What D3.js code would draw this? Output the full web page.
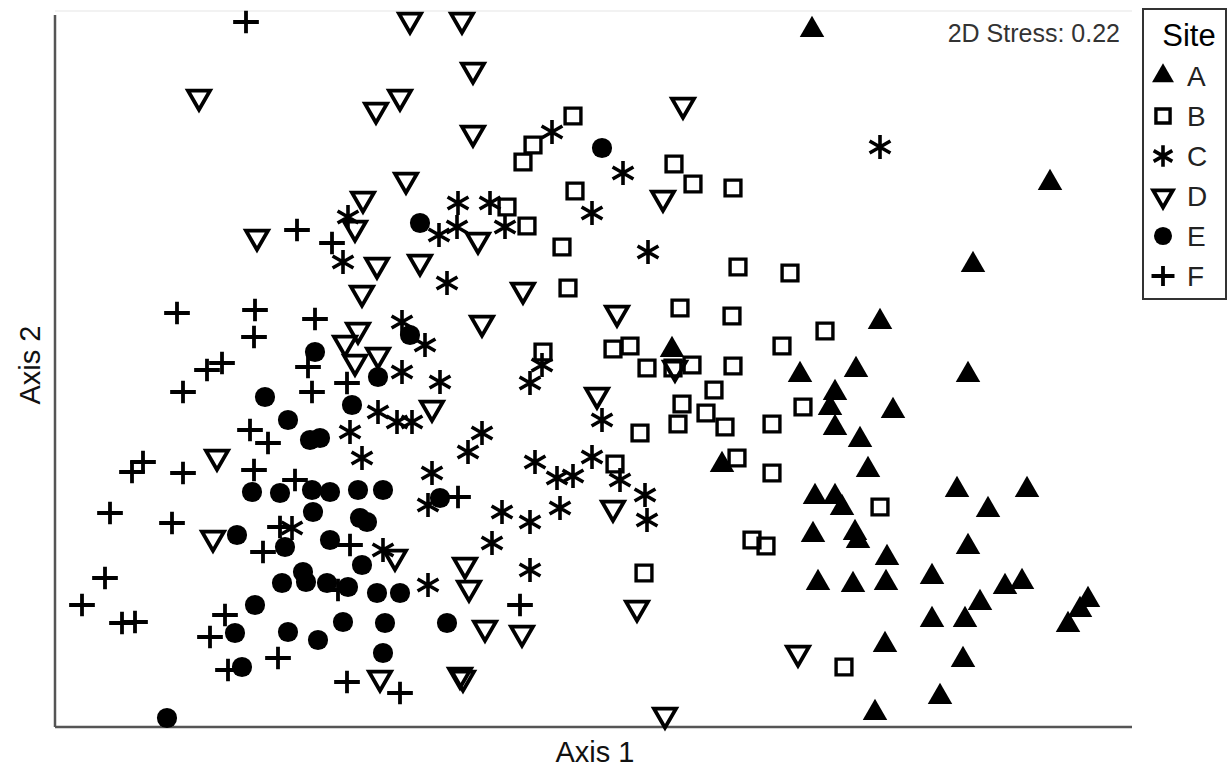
<!DOCTYPE html>
<html>
<head>
<meta charset="utf-8">
<script src="https://cdn.jsdelivr.net/npm/d3@7"></script>
<style>
  body { margin: 0; background: #fff; }
  svg { display: block; font-family: Arial, "Liberation Sans", sans-serif; }
</style>
</head>
<body>
<svg id="chart" width="1228" height="780"></svg>
<script>
// NMDS scores (axis units are arbitrary)
var siteA = [
  [7.57,6.97],[9.95,5.44],[9.18,4.62],[8.25,4.05],[9.13,3.52],[7.45,3.52],[8.01,3.57],
  [7.80,3.34],[7.75,3.19],[8.38,3.16],[6.17,3.77],[6.67,2.62],[7.80,2.99],[8.05,2.87],
  [8.13,2.57],[7.60,2.30],[7.80,2.30],[7.87,2.19],[9.02,2.37],[9.72,2.37],[9.33,2.17],
  [7.58,1.92],[8.00,1.94],[8.03,1.86],[9.13,1.80],[8.32,1.69],[7.63,1.44],[7.98,1.42],
  [8.31,1.44],[8.77,1.50],[9.50,1.40],[9.67,1.45],[9.25,1.24],[8.77,1.07],[9.10,1.07],
  [10.33,1.27],[10.25,1.17],[10.13,1.02],[8.30,0.82],[9.08,0.67],[8.85,0.30],[8.20,0.14]
];
var siteB = [
  [4.78,5.82],[5.18,6.11],[4.68,5.65],[4.52,5.20],[4.72,5.01],[5.07,4.80],[5.20,5.36],
  [6.19,5.63],[6.38,5.43],[6.78,5.39],[6.83,4.60],[5.13,4.39],[6.25,4.19],[6.77,4.11],
  [7.35,4.54],[7.70,3.96],[7.27,3.81],[4.88,3.75],[5.58,3.78],[5.75,3.81],[5.92,3.59],
  [6.37,3.62],[6.78,3.61],[6.18,3.59],[6.59,3.37],[6.27,3.23],[6.51,3.14],[6.23,3.03],
  [6.70,3.00],[7.17,3.03],[5.85,2.94],[6.82,2.69],[7.17,2.54],[5.60,2.63],[7.48,3.20],
  [8.25,2.20],[6.97,1.87],[7.11,1.81],[5.89,1.54],[7.89,0.60]
];
var siteC = [
  [4.97,5.95],[5.68,5.54],[5.37,5.14],[5.93,4.75],[4.03,5.24],[4.35,5.24],[3.84,4.92],
  [4.02,5.00],[4.50,5.00],[8.25,5.80],[2.93,5.10],[2.88,4.65],[3.92,4.44],[3.47,4.05],
  [3.70,3.82],[3.85,3.45],[3.47,3.55],[3.23,3.15],[3.42,3.05],[3.57,3.05],[2.95,2.95],
  [3.07,2.69],[3.77,2.54],[3.73,2.22],[4.27,2.94],[4.13,2.75],[4.75,3.44],[4.87,3.62],
  [5.47,3.07],[4.80,2.65],[5.02,2.49],[5.18,2.51],[5.37,2.70],[5.65,2.47],[5.90,2.32],
  [5.92,2.07],[4.47,2.15],[4.75,2.05],[5.05,2.19],[4.37,1.84],[4.75,1.57],[3.73,1.42],
  [3.28,1.77],[2.37,1.99]
];
var siteD = [
  [4.07,7.07],[3.55,7.07],[4.18,6.57],[3.45,6.30],[3.21,6.17],[4.18,5.94],[3.51,5.47],
  [6.28,6.22],[6.08,5.29],[3.08,5.28],[3.00,4.99],[2.02,4.90],[3.65,4.65],[4.23,4.87],
  [3.22,4.62],[4.68,4.37],[3.07,4.34],[4.27,4.04],[5.62,4.14],[3.03,3.97],[2.90,3.84],
  [3.23,3.72],[3.00,3.65],[3.77,3.19],[5.42,3.32],[1.62,2.70],[1.58,1.89],[3.40,1.70],
  [5.58,2.19],[4.10,1.62],[4.14,1.39],[4.30,0.99],[4.67,0.94],[5.82,1.19],[4.05,0.52],
  [4.08,0.49],[3.25,0.49],[6.10,0.12],[7.43,0.74],[6.20,3.59],[1.44,6.30]
];
var siteE = [
  [5.47,5.79],[3.65,5.04],[3.55,3.92],[2.60,3.75],[3.23,3.50],[2.10,3.30],[2.97,3.22],
  [2.33,3.07],[2.55,2.87],[2.65,2.89],[1.97,2.35],[2.25,2.34],[2.57,2.37],[2.75,2.35],
  [3.03,2.37],[3.28,2.37],[2.58,2.15],[3.05,2.09],[3.12,2.05],[1.82,1.92],[2.30,1.80],
  [2.75,1.87],[3.07,1.62],[2.27,1.44],[2.48,1.55],[2.51,1.45],[2.72,1.44],[2.93,1.40],
  [3.22,1.34],[3.45,1.34],[2.00,1.22],[1.80,0.94],[2.33,0.95],[2.63,0.87],[2.88,1.05],
  [3.30,1.04],[1.87,0.60],[3.28,0.74],[1.12,0.09],[3.85,2.29],[3.92,1.04]
];
var siteF = [
  [1.91,7.05],[2.42,4.97],[2.77,4.84],[1.22,4.14],[2.00,4.17],[1.99,3.90],[2.60,4.08],
  [1.52,3.57],[1.67,3.64],[1.28,3.35],[2.53,3.60],[2.57,3.35],[2.92,3.44],[1.95,2.97],
  [2.13,2.84],[0.77,2.55],[0.88,2.65],[1.28,2.54],[1.99,2.57],[2.40,2.47],[0.55,2.14],
  [1.17,2.04],[2.25,2.00],[2.08,1.75],[2.95,1.82],[0.50,1.49],[0.27,1.22],[0.67,1.04],
  [0.80,1.05],[1.70,1.12],[1.55,0.90],[1.73,0.57],[2.23,0.69],[2.92,0.45],[3.45,0.34],
  [2.83,1.37],[4.03,2.30],[4.65,1.22]
];

var siteNames = ["A", "B", "C", "D", "E", "F"];
var siteData = [siteA, siteB, siteC, siteD, siteE, siteF];
var stressLabel = "2D Stress: 0.22";

var margin = {top: 12, right: 96, bottom: 53, left: 55};
var width = 1228, height = 780;

var svg = d3.select("#chart");

var x = d3.scaleLinear()
  .domain([0, 10.77])
  .range([margin.left, width - margin.right]);

var y = d3.scaleLinear()
  .domain([0, 7.15])
  .range([height - margin.bottom, margin.top]);

// custom line symbols
var asterisk = {
  draw: function(ctx, size) {
    var r = Math.sqrt(size) / 2;
    ctx.moveTo(0, -r); ctx.lineTo(0, r);
    var a = Math.PI / 6;
    ctx.moveTo(-r * Math.cos(a), -r * Math.sin(a)); ctx.lineTo(r * Math.cos(a), r * Math.sin(a));
    ctx.moveTo(-r * Math.cos(a), r * Math.sin(a)); ctx.lineTo(r * Math.cos(a), -r * Math.sin(a));
  }
};
var plus = {
  draw: function(ctx, size) {
    var r = Math.sqrt(size) / 2;
    ctx.moveTo(-r, 0); ctx.lineTo(r, 0);
    ctx.moveTo(0, -r * 0.88); ctx.lineTo(0, r * 0.88);
  }
};

var styles = [
  {type: d3.symbolTriangle, size: 260, fill: "#000", stroke: "none", sw: 0, rot: 0},
  {type: d3.symbolSquare, size: 250, fill: "none", stroke: "#000", sw: 3.4, rot: 0},
  {type: asterisk, size: 580, fill: "none", stroke: "#000", sw: 3.6, rot: 0},
  {type: d3.symbolTriangle, size: 210, fill: "none", stroke: "#000", sw: 3.8, rot: 180},
  {type: d3.symbolCircle, size: 320, fill: "#000", stroke: "none", sw: 0, rot: 0},
  {type: plus, size: 660, fill: "none", stroke: "#000", sw: 3.8, rot: 0}
];

// frame
svg.append("line")
  .attr("x1", margin.left).attr("x2", width - margin.right)
  .attr("y1", margin.top - 1).attr("y2", margin.top - 1)
  .attr("stroke", "#eeeeee").attr("stroke-width", 1.5);

svg.append("line")
  .attr("x1", margin.left).attr("x2", margin.left)
  .attr("y1", margin.top + 3).attr("y2", height - margin.bottom)
  .attr("stroke", "#555").attr("stroke-width", 2.5);

svg.append("line")
  .attr("x1", margin.left).attr("x2", width - margin.right)
  .attr("y1", height - margin.bottom).attr("y2", height - margin.bottom)
  .attr("stroke", "#555").attr("stroke-width", 2.5);

// points
siteData.forEach(function(data, i) {
  var st = styles[i];
  svg.append("g").attr("class", "site-" + siteNames[i])
    .selectAll("path")
    .data(data)
    .join("path")
      .attr("transform", function(d) {
        return "translate(" + x(d[0]) + "," + y(d[1]) + ")" + (st.rot ? " rotate(" + st.rot + ")" : "");
      })
      .attr("d", d3.symbol().type(st.type).size(st.size))
      .attr("fill", st.fill)
      .attr("stroke", st.stroke)
      .attr("stroke-width", st.sw);
});

// axis titles
svg.append("text")
  .attr("x", 595).attr("y", 762)
  .attr("text-anchor", "middle")
  .attr("font-size", 29)
  .attr("fill", "#111")
  .text("Axis 1");

svg.append("text")
  .attr("transform", "translate(40,365) rotate(-90)")
  .attr("text-anchor", "middle")
  .attr("font-size", 29)
  .attr("fill", "#111")
  .text("Axis 2");

svg.append("text")
  .attr("x", 1120).attr("y", 42)
  .attr("text-anchor", "end")
  .attr("font-size", 25)
  .attr("fill", "#333")
  .text(stressLabel);

// legend
var legend = svg.append("g");
legend.append("rect")
  .attr("x", 1143).attr("y", 9)
  .attr("width", 83).attr("height", 290)
  .attr("fill", "#fff").attr("stroke", "#333").attr("stroke-width", 2);

legend.append("text")
  .attr("x", 1189).attr("y", 46)
  .attr("text-anchor", "middle")
  .attr("font-size", 31)
  .attr("fill", "#000")
  .text("Site");

var ly = d3.scalePoint().domain(siteNames).range([76, 276]);

siteNames.forEach(function(name, i) {
  var st = styles[i];
  legend.append("path")
    .attr("transform", "translate(1163," + ly(name) + ")" + (st.rot ? " rotate(" + st.rot + ")" : ""))
    .attr("d", d3.symbol().type(st.type).size(st.size * 0.8))
    .attr("fill", st.fill)
    .attr("stroke", st.stroke)
    .attr("stroke-width", st.sw);
  legend.append("text")
    .attr("x", 1187).attr("y", ly(name) + 10)
    .attr("font-size", 28)
    .attr("fill", "#222")
    .text(name);
});
</script>
</body>
</html>
